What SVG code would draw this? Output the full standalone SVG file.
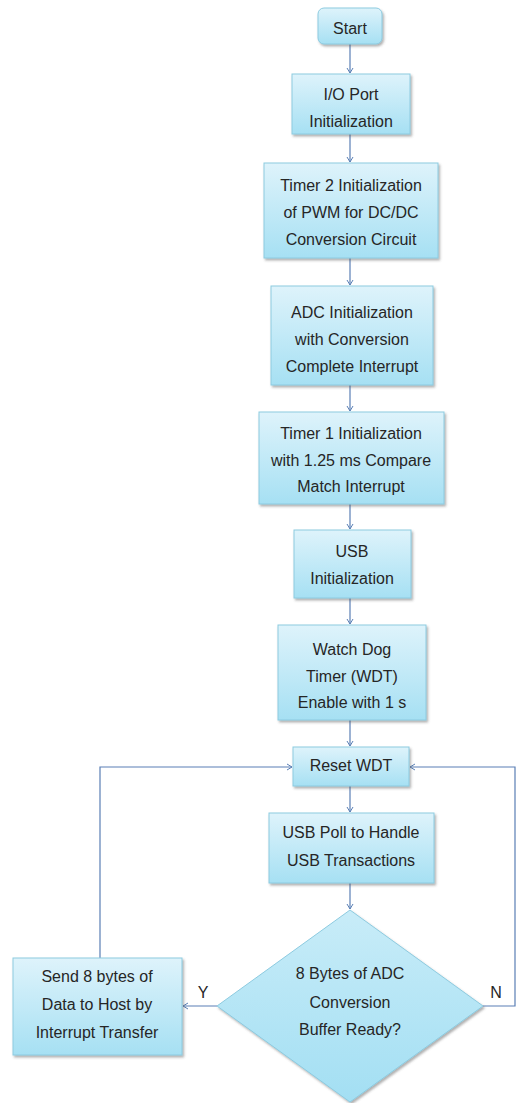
<svg xmlns="http://www.w3.org/2000/svg" width="516" height="1103" viewBox="0 0 516 1103">
<defs>
<linearGradient id="g" x1="0" y1="0" x2="0" y2="1">
<stop offset="0" stop-color="#def3fb"/>
<stop offset="1" stop-color="#a6e0f3"/>
</linearGradient>
<linearGradient id="gd" x1="0" y1="0" x2="0" y2="1">
<stop offset="0" stop-color="#c8ecf8"/>
<stop offset="1" stop-color="#a3dff3"/>
</linearGradient>
<filter id="sh" x="-10%" y="-10%" width="125%" height="130%">
<feDropShadow dx="1.5" dy="2" stdDeviation="1" flood-color="#555" flood-opacity="0.45"/>
</filter>
<marker id="ar" markerWidth="8" markerHeight="8" refX="6" refY="4" orient="auto" markerUnits="userSpaceOnUse">
<path d="M1,1 L6,4 L1,7" fill="none" stroke="#5a7fb5" stroke-width="1"/>
</marker>
<style>
.box{fill:url(#g);stroke:#8dcbe0;stroke-width:1;filter:url(#sh)}
.dia{fill:url(#gd);stroke:#8dcbe0;stroke-width:1;filter:url(#sh)}
.t{font-family:"Liberation Sans",Arial,sans-serif;font-size:16px;fill:#262626;text-anchor:middle}
.c{fill:none;stroke:#5a7fb5;stroke-width:1.2;marker-end:url(#ar)}
</style>
</defs>
<g id="connectors">
<path class="c" d="M350,44 V73"/>
<path class="c" d="M350,134 V162"/>
<path class="c" d="M350,258 V285"/>
<path class="c" d="M350,385 V411"/>
<path class="c" d="M350,504 V529"/>
<path class="c" d="M350,598 V624"/>
<path class="c" d="M350,720 V746"/>
<path class="c" d="M350,786 V812"/>
<path class="c" d="M350,883 V909"/>
<path class="c" d="M217,1006 H183"/>
<path class="c" d="M100,958 V767 H292"/>
<path class="c" d="M483,1006 H515 V767 H410"/>
<text class="t" x="203" y="998">Y</text>
<text class="t" x="496" y="998">N</text>
</g>
<g id="start">
<rect class="box" x="318" y="8" width="64" height="36" rx="6"/>
<text class="t" x="350" y="34">Start</text>
</g>
<g id="io">
<rect class="box" x="292" y="74" width="118" height="60"/>
<text class="t" x="351" y="100">I/O Port</text>
<text class="t" x="351" y="127">Initialization</text>
</g>
<g id="timer2">
<rect class="box" x="264" y="163" width="174" height="95"/>
<text class="t" x="351" y="191">Timer 2 Initialization</text>
<text class="t" x="351" y="218">of PWM for DC/DC</text>
<text class="t" x="351" y="245">Conversion Circuit</text>
</g>
<g id="adc">
<rect class="box" x="271" y="286" width="162" height="99"/>
<text class="t" x="352" y="318">ADC Initialization</text>
<text class="t" x="352" y="345">with Conversion</text>
<text class="t" x="352" y="372">Complete Interrupt</text>
</g>
<g id="timer1">
<rect class="box" x="259" y="412" width="185" height="92"/>
<text class="t" x="351" y="439">Timer 1 Initialization</text>
<text class="t" x="351" y="466">with 1.25 ms Compare</text>
<text class="t" x="351" y="492">Match Interrupt</text>
</g>
<g id="usbinit">
<rect class="box" x="294" y="530" width="117" height="68"/>
<text class="t" x="352" y="557">USB</text>
<text class="t" x="352" y="584">Initialization</text>
</g>
<g id="wdt">
<rect class="box" x="278" y="625" width="148" height="95"/>
<text class="t" x="352" y="655">Watch Dog</text>
<text class="t" x="352" y="682">Timer (WDT)</text>
<text class="t" x="352" y="708">Enable with 1 s</text>
</g>
<g id="reset">
<rect class="box" x="293" y="747" width="116" height="39"/>
<text class="t" x="351" y="771">Reset WDT</text>
</g>
<g id="poll">
<rect class="box" x="269" y="813" width="165" height="70"/>
<text class="t" x="351" y="838">USB Poll to Handle</text>
<text class="t" x="351" y="866">USB Transactions</text>
</g>
<g id="decision">
<polygon class="dia" points="350,910 483,1006 350,1102 217,1006"/>
<text class="t" x="350" y="979">8 Bytes of ADC</text>
<text class="t" x="350" y="1008">Conversion</text>
<text class="t" x="350" y="1035">Buffer Ready?</text>
</g>
<g id="send">
<rect class="box" x="13" y="958" width="169" height="97"/>
<text class="t" x="97" y="982">Send 8 bytes of</text>
<text class="t" x="97" y="1010">Data to Host by</text>
<text class="t" x="97" y="1038">Interrupt Transfer</text>
</g>
</svg>
